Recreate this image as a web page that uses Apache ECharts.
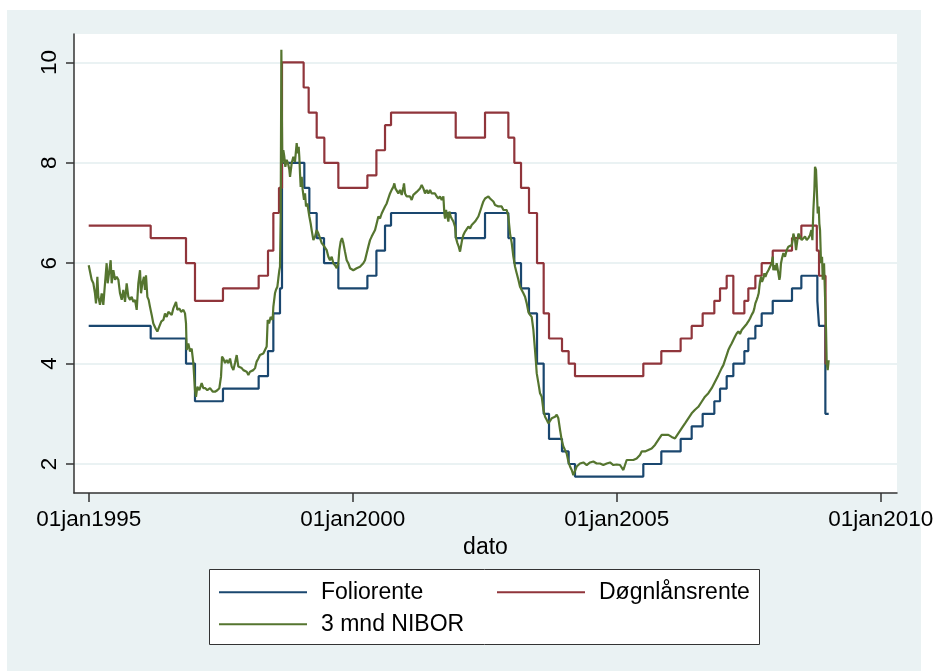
<!DOCTYPE html>
<html>
<head>
<meta charset="utf-8">
<script src="https://cdn.jsdelivr.net/npm/echarts@6/dist/echarts.min.js"></script>
<style>
  html, body { margin: 0; padding: 0; background: #ffffff; }
  #frame { position: absolute; left: 7px; top: 10px; width: 914px; height: 661px; background: #EAF2F3; }
  #chart { position: absolute; left: 0; top: 0; width: 938px; height: 671px; }
</style>
</head>
<body>
<div id="frame"></div>
<div id="chart"></div>
<script>
// Dates are decimal years (dato); rates in percent.

// Foliorente (sight deposit rate): date of each change and the new rate
const folioDates = [1995.000, 1996.174, 1996.843, 1997.013, 1997.543, 1998.219, 1998.396, 1998.497,
  1998.623, 1998.661, 1999.084, 1999.179, 1999.318, 1999.457, 1999.728, 2000.278, 2000.449, 2000.612,
  2000.726, 2001.951, 2002.506, 2002.948, 2003.061, 2003.188, 2003.339, 2003.491, 2003.617, 2003.718,
  2003.964, 2004.090, 2004.210, 2005.504, 2005.845, 2006.211, 2006.420, 2006.628, 2006.849, 2006.957,
  2007.083, 2007.209, 2007.418, 2007.493, 2007.626, 2007.746, 2007.955, 2008.320, 2008.497, 2008.800,
  2008.832, 2008.952, 2009.015];
const folioRates = [4.75, 4.5, 4.0, 3.25, 3.5, 3.75, 4.25, 5.0,
  5.5, 8.0, 7.5, 7.0, 6.5, 6.0, 5.5, 5.75, 6.25, 6.75,
  7.0, 6.5, 7.0, 6.5, 6.0, 5.5, 5.0, 4.0, 3.0, 2.5,
  2.25, 2.0, 1.75, 2.0, 2.25, 2.5, 2.75, 3.0, 3.25, 3.5,
  3.75, 4.0, 4.25, 4.5, 4.75, 5.0, 5.25, 5.5, 5.75, 5.25,
  4.75, 3.0, 3.0];

// Døgnlånsrente (overnight lending rate)
const dognDates = [1995.000, 1996.174, 1996.843, 1997.013, 1997.543, 1998.219, 1998.396, 1998.497,
  1998.604, 1998.661, 1999.071, 1999.166, 1999.318, 1999.463, 1999.728, 2000.278, 2000.449, 2000.612,
  2000.726, 2001.951, 2002.506, 2002.948, 2003.061, 2003.188, 2003.339, 2003.491, 2003.617, 2003.718,
  2003.964, 2004.090, 2004.210, 2005.504, 2005.845, 2006.211, 2006.420, 2006.628, 2006.849, 2006.957,
  2007.083, 2007.209, 2007.418, 2007.493, 2007.626, 2007.746, 2007.955, 2008.320, 2008.497, 2008.790,
  2008.832, 2008.955, 2009.015];
const dognRates = [6.75, 6.5, 6.0, 5.25, 5.5, 5.75, 6.25, 7.0,
  7.5, 10.0, 9.5, 9.0, 8.5, 8.0, 7.5, 7.75, 8.25, 8.75,
  9.0, 8.5, 9.0, 8.5, 8.0, 7.5, 7.0, 6.0, 5.0, 4.5,
  4.25, 4.0, 3.75, 4.0, 4.25, 4.5, 4.75, 5.0, 5.25, 5.5,
  5.75, 5.0, 5.25, 5.5, 5.75, 6.0, 6.25, 6.5, 6.75, 6.25,
  5.75, 4.0, 4.0];

// 3 mnd NIBOR
const niborDates = [
  1995.000, 1995.025, 1995.056, 1995.088, 1995.119, 1995.138, 1995.164, 1995.182, 1995.214, 1995.246,
  1995.277, 1995.309, 1995.340, 1995.359, 1995.385, 1995.416, 1995.435, 1995.467, 1995.499, 1995.530,
  1995.562, 1995.593, 1995.625, 1995.656, 1995.688, 1995.719, 1995.751, 1995.783, 1995.814, 1995.846,
  1995.877, 1995.909, 1995.940, 1995.972, 1995.991, 1996.016, 1996.047, 1996.066, 1996.085, 1996.111,
  1996.136, 1996.161, 1996.193, 1996.224, 1996.268, 1996.300, 1996.338, 1996.376, 1996.414, 1996.445,
  1996.477, 1996.509, 1996.540, 1996.572, 1996.603, 1996.635, 1996.654, 1996.679, 1996.717, 1996.749,
  1996.793, 1996.824, 1996.843, 1996.856, 1996.887, 1996.919, 1996.950, 1996.982, 1997.013, 1997.032,
  1997.058, 1997.095, 1997.140, 1997.171, 1997.209, 1997.247, 1997.298, 1997.348, 1997.392, 1997.436,
  1997.474, 1997.506, 1997.525, 1997.550, 1997.582, 1997.613, 1997.645, 1997.677, 1997.708, 1997.740,
  1997.771, 1997.803, 1997.834, 1997.866, 1997.898, 1997.929, 1997.961, 1997.992, 1998.024, 1998.055,
  1998.087, 1998.118, 1998.150, 1998.181, 1998.213, 1998.244, 1998.276, 1998.307, 1998.339, 1998.371,
  1998.390, 1998.415, 1998.446, 1998.484, 1998.497, 1998.528, 1998.547, 1998.573, 1998.592, 1998.611,
  1998.623, 1998.636, 1998.649, 1998.655, 1998.667, 1998.686, 1998.705, 1998.724, 1998.749, 1998.775,
  1998.800, 1998.813, 1998.844, 1998.876, 1998.907, 1998.939, 1998.958, 1998.977, 1998.989, 1999.002,
  1999.015, 1999.034, 1999.053, 1999.078, 1999.097, 1999.116, 1999.141, 1999.160, 1999.179, 1999.204,
  1999.223, 1999.255, 1999.287, 1999.318, 1999.350, 1999.381, 1999.413, 1999.444, 1999.476, 1999.507,
  1999.539, 1999.570, 1999.602, 1999.634, 1999.665, 1999.697, 1999.728, 1999.747, 1999.772, 1999.797,
  1999.823, 1999.854, 1999.886, 1999.917, 1999.949, 1999.980, 2000.012, 2000.044, 2000.075, 2000.107,
  2000.138, 2000.201, 2000.233, 2000.265, 2000.296, 2000.328, 2000.359, 2000.391, 2000.423, 2000.454,
  2000.486, 2000.517, 2000.549, 2000.580, 2000.612, 2000.644, 2000.675, 2000.707, 2000.738, 2000.770,
  2000.789, 2000.808, 2000.833, 2000.865, 2000.896, 2000.928, 2000.960, 2000.972, 2000.991, 2001.023,
  2001.054, 2001.086, 2001.117, 2001.149, 2001.181, 2001.212, 2001.244, 2001.275, 2001.307, 2001.338,
  2001.370, 2001.402, 2001.433, 2001.465, 2001.496, 2001.528, 2001.559, 2001.591, 2001.623, 2001.654,
  2001.686, 2001.717, 2001.736, 2001.749, 2001.768, 2001.793, 2001.812, 2001.831, 2001.856, 2001.875,
  2001.907, 2001.938, 2001.957, 2001.983, 2002.008, 2002.033, 2002.052, 2002.071, 2002.096, 2002.128,
  2002.159, 2002.191, 2002.222, 2002.254, 2002.286, 2002.317, 2002.349, 2002.380, 2002.412, 2002.443,
  2002.475, 2002.507, 2002.538, 2002.570, 2002.601, 2002.633, 2002.664, 2002.696, 2002.727, 2002.759,
  2002.791, 2002.822, 2002.854, 2002.885, 2002.917, 2002.948, 2002.980, 2003.012, 2003.043, 2003.075,
  2003.106, 2003.138, 2003.169, 2003.201, 2003.233, 2003.264, 2003.296, 2003.327, 2003.359, 2003.390,
  2003.422, 2003.453, 2003.472, 2003.485, 2003.517, 2003.548, 2003.580, 2003.611, 2003.643, 2003.674,
  2003.706, 2003.737, 2003.769, 2003.801, 2003.832, 2003.864, 2003.895, 2003.927, 2003.958, 2003.990,
  2004.021, 2004.053, 2004.085, 2004.116, 2004.148, 2004.179, 2004.211, 2004.242, 2004.274, 2004.305,
  2004.337, 2004.369, 2004.400, 2004.432, 2004.495, 2004.558, 2004.621, 2004.684, 2004.747, 2004.811,
  2004.874, 2004.937, 2005.000, 2005.063, 2005.126, 2005.158, 2005.189, 2005.221, 2005.253, 2005.315,
  2005.378, 2005.441, 2005.473, 2005.536, 2005.599, 2005.662, 2005.725, 2005.788, 2005.852, 2005.915,
  2005.978, 2006.041, 2006.104, 2006.167, 2006.230, 2006.294, 2006.357, 2006.420, 2006.483, 2006.546,
  2006.609, 2006.672, 2006.736, 2006.799, 2006.862, 2006.925, 2006.988, 2007.020, 2007.051, 2007.083,
  2007.114, 2007.146, 2007.177, 2007.209, 2007.241, 2007.272, 2007.304, 2007.335, 2007.367, 2007.398,
  2007.430, 2007.462, 2007.493, 2007.525, 2007.556, 2007.588, 2007.607, 2007.626, 2007.651, 2007.670,
  2007.689, 2007.702, 2007.714, 2007.733, 2007.752, 2007.778, 2007.797, 2007.816, 2007.841, 2007.873,
  2007.904, 2007.936, 2007.955, 2007.967, 2007.986, 2008.011, 2008.030, 2008.062, 2008.081, 2008.093,
  2008.112, 2008.131, 2008.157, 2008.188, 2008.220, 2008.251, 2008.283, 2008.314, 2008.333, 2008.346,
  2008.378, 2008.397, 2008.422, 2008.441, 2008.472, 2008.504, 2008.535, 2008.567, 2008.599, 2008.630,
  2008.662, 2008.687, 2008.706, 2008.725, 2008.744, 2008.756, 2008.775, 2008.788, 2008.807, 2008.826,
  2008.838, 2008.851, 2008.870, 2008.889, 2008.902, 2008.927, 2008.946, 2008.965, 2008.977, 2008.996,
  2009.015];
const niborRates = [
  5.96, 5.98, 5.67, 5.60, 5.40, 5.20, 5.73, 5.33, 5.17, 5.40,
  5.17, 5.60, 6.00, 5.60, 5.80, 6.06, 5.60, 5.86, 5.67, 5.73,
  5.67, 5.40, 5.27, 5.47, 5.23, 5.60, 5.33, 5.27, 5.33, 5.23,
  5.27, 5.07, 5.60, 5.86, 5.40, 5.60, 5.73, 5.47, 5.76, 5.33,
  5.27, 5.13, 4.97, 4.80, 4.70, 4.64, 4.74, 4.84, 4.87, 5.00,
  4.93, 5.03, 5.00, 4.97, 5.10, 5.13, 5.23, 5.07, 5.10, 5.03,
  5.07, 5.00, 4.80, 4.27, 4.40, 4.24, 4.30, 4.01, 3.47, 3.34,
  3.54, 3.47, 3.61, 3.51, 3.51, 3.47, 3.51, 3.44, 3.44, 3.47,
  3.51, 3.74, 4.14, 4.10, 4.01, 4.07, 4.01, 4.10, 3.94, 3.87,
  4.01, 4.17, 3.94, 3.94, 3.91, 3.87, 3.87, 3.84, 3.77, 3.84,
  3.87, 3.87, 3.91, 4.04, 4.10, 4.17, 4.17, 4.20, 4.27, 4.34,
  4.87, 4.80, 4.93, 4.87, 5.13, 5.40, 5.47, 5.53, 5.70, 5.86,
  5.93, 6.93, 10.25, 9.32, 7.99, 8.25, 8.12, 7.92, 8.06, 7.99,
  7.86, 7.72, 7.99, 8.12, 8.02, 8.39, 8.19, 8.32, 8.12, 7.79,
  7.52, 7.72, 7.46, 7.26, 7.39, 7.13, 7.19, 7.06, 6.93, 6.79,
  6.66, 6.46, 6.53, 6.66, 6.59, 6.50, 6.40, 6.36, 6.33, 6.26,
  6.13, 6.06, 6.13, 6.00, 5.96, 5.90, 6.00, 6.26, 6.43, 6.50,
  6.40, 6.23, 6.06, 6.00, 5.90, 5.93, 5.86, 5.86, 5.90, 5.92,
  5.93, 6.00, 6.06, 6.20, 6.33, 6.46, 6.53, 6.50, 6.66, 6.79,
  6.93, 6.89, 6.99, 7.06, 7.13, 7.19, 7.29, 7.39, 7.46, 7.52,
  7.59, 7.49, 7.46, 7.39, 7.46, 7.36, 7.52, 7.59, 7.39, 7.33,
  7.36, 7.33, 7.26, 7.36, 7.39, 7.42, 7.39, 7.49, 7.56, 7.49,
  7.39, 7.46, 7.39, 7.46, 7.39, 7.36, 7.39, 7.33, 7.29, 7.33,
  7.26, 7.33, 6.99, 6.89, 7.06, 6.93, 6.83, 7.03, 6.93, 6.89,
  6.83, 6.73, 6.50, 6.40, 6.33, 6.23, 6.20, 6.46, 6.56, 6.63,
  6.66, 6.73, 6.69, 6.76, 6.79, 6.83, 6.86, 6.93, 7.03, 7.13,
  7.23, 7.29, 7.26, 7.33, 7.29, 7.26, 7.23, 7.16, 7.19, 7.13,
  7.16, 7.13, 7.06, 7.03, 7.06, 6.93, 6.59, 6.40, 6.13, 5.93,
  5.80, 5.67, 5.53, 5.50, 5.40, 5.33, 5.20, 5.03, 4.97, 4.93,
  4.67, 4.27, 4.01, 3.81, 3.61, 3.41, 3.34, 3.08, 2.94, 2.88,
  2.81, 2.84, 2.91, 2.88, 2.94, 2.98, 2.91, 2.68, 2.48, 2.35,
  2.28, 2.21, 2.05, 1.95, 1.88, 1.78, 1.75, 1.95, 1.98, 2.01,
  1.98, 2.03, 2.01, 1.98, 2.03, 2.05, 2.01, 2.01, 1.98, 2.01,
  2.03, 1.98, 1.99, 1.98, 1.88, 1.91, 2.08, 2.11, 2.08, 2.08,
  2.11, 2.18, 2.25, 2.25, 2.28, 2.31, 2.38, 2.48, 2.58, 2.58,
  2.58, 2.54, 2.51, 2.61, 2.71, 2.81, 2.91, 3.01, 3.08, 3.14,
  3.24, 3.34, 3.41, 3.51, 3.64, 3.77, 3.91, 3.97, 4.07, 4.17,
  4.27, 4.34, 4.40, 4.47, 4.54, 4.60, 4.64, 4.59, 4.67, 4.70,
  4.75, 4.79, 4.84, 4.90, 4.97, 5.03, 5.10, 5.20, 5.27, 5.33,
  5.40, 5.53, 5.63, 5.73, 5.63, 5.70, 5.80, 5.73, 5.80, 5.86,
  5.93, 6.00, 6.13, 5.86, 5.96, 5.86, 6.00, 5.80, 5.67, 5.73,
  6.00, 6.10, 6.20, 6.13, 6.26, 6.33, 6.30, 6.36, 6.46, 6.59,
  6.46, 6.26, 6.46, 6.59, 6.53, 6.46, 6.43, 6.53, 6.46, 6.50,
  6.56, 6.66, 6.46, 7.06, 7.46, 7.92, 7.86, 7.52, 6.99, 7.13,
  6.79, 6.66, 6.00, 6.13, 5.67, 6.00, 5.33, 4.67, 4.01, 3.87,
  4.07];

// Axis ticks
const xTickYears = [1995, 2000, 2005, 2010];
const yTickValues = [2, 4, 6, 8, 10];

const seriesNames = ['Foliorente', 'Døgnlånsrente', '3 mnd NIBOR'];
const seriesColors = ['#1A476F', '#90353B', '#55752F'];

const pair = (xs, ys) => xs.map((x, i) => [x, ys[i]]);

const FONT = "'Liberation Sans', Arial, Helvetica, sans-serif";
const axisLineStyle = { color: '#333333', width: 1.5 };

const chart = echarts.init(document.getElementById('chart'), null, { renderer: 'canvas' });

// Legend key: a plain horizontal stroke, 88 px long
const legendCommon = {
  orient: 'vertical',
  top: 580.7,
  padding: 0,
  itemWidth: 88,
  itemHeight: 22,
  itemGap: 9,
  icon: 'path://M0,0L88,0L88,2L0,2Z',
  symbolKeepAspect: true,
  selectedMode: false,
  textStyle: { fontFamily: FONT, fontSize: 23, color: '#000', lineHeight: 22, padding: [0, 0, 0, 9] }
};

chart.setOption({
  animation: false,
  backgroundColor: 'transparent',
  textStyle: { fontFamily: FONT },
  grid: {
    left: 74, right: 41, top: 34, bottom: 178,
    show: true, backgroundColor: '#ffffff', borderWidth: 0,
    containLabel: false, outerBoundsMode: 'none'
  },
  graphic: [{
    type: 'rect', z: 1,
    shape: { x: 209.5, y: 569.5, width: 550, height: 75 },
    style: { fill: '#ffffff', stroke: '#333333', lineWidth: 1 }
  }],
  legend: [
    Object.assign({ left: 219, data: [seriesNames[0], seriesNames[2]] }, legendCommon),
    Object.assign({ left: 497, data: [seriesNames[1]] }, legendCommon)
  ],
  xAxis: {
    type: 'value',
    min: 1994.7216, max: 2010.3087,
    name: 'dato', nameLocation: 'middle', nameGap: 39,
    nameTextStyle: { fontFamily: FONT, fontSize: 23, color: '#000' },
    axisLine: { show: true, onZero: false, lineStyle: axisLineStyle },
    axisTick: { show: true, length: 9, customValues: xTickYears, lineStyle: axisLineStyle },
    axisLabel: {
      customValues: xTickYears, margin: 15,
      fontFamily: FONT, fontSize: 22.5, color: '#000',
      formatter: v => '01jan' + Math.round(v)
    },
    splitLine: { show: false }
  },
  yAxis: {
    type: 'value',
    min: 1.4223, max: 10.5657,
    axisLine: { show: true, onZero: false, lineStyle: axisLineStyle },
    axisTick: { show: true, length: 8, customValues: yTickValues, lineStyle: axisLineStyle },
    axisLabel: {
      customValues: yTickValues, rotate: 90, margin: 13,
      fontFamily: FONT, fontSize: 22.5, color: '#000'
    },
    splitLine: { show: true, lineStyle: { color: '#EAF2F3', width: 2 } }
  },
  series: [
    {
      name: seriesNames[0], type: 'line', step: 'end', symbol: 'none',
      data: pair(folioDates, folioRates),
      lineStyle: { color: seriesColors[0], width: 2.2 }, itemStyle: { color: seriesColors[0] }
    },
    {
      name: seriesNames[1], type: 'line', step: 'end', symbol: 'none',
      data: pair(dognDates, dognRates),
      lineStyle: { color: seriesColors[1], width: 2.2 }, itemStyle: { color: seriesColors[1] }
    },
    {
      name: seriesNames[2], type: 'line', symbol: 'none',
      data: pair(niborDates, niborRates),
      lineStyle: { color: seriesColors[2], width: 2.2 }, itemStyle: { color: seriesColors[2] }
    }
  ]
});
</script>
</body>
</html>
